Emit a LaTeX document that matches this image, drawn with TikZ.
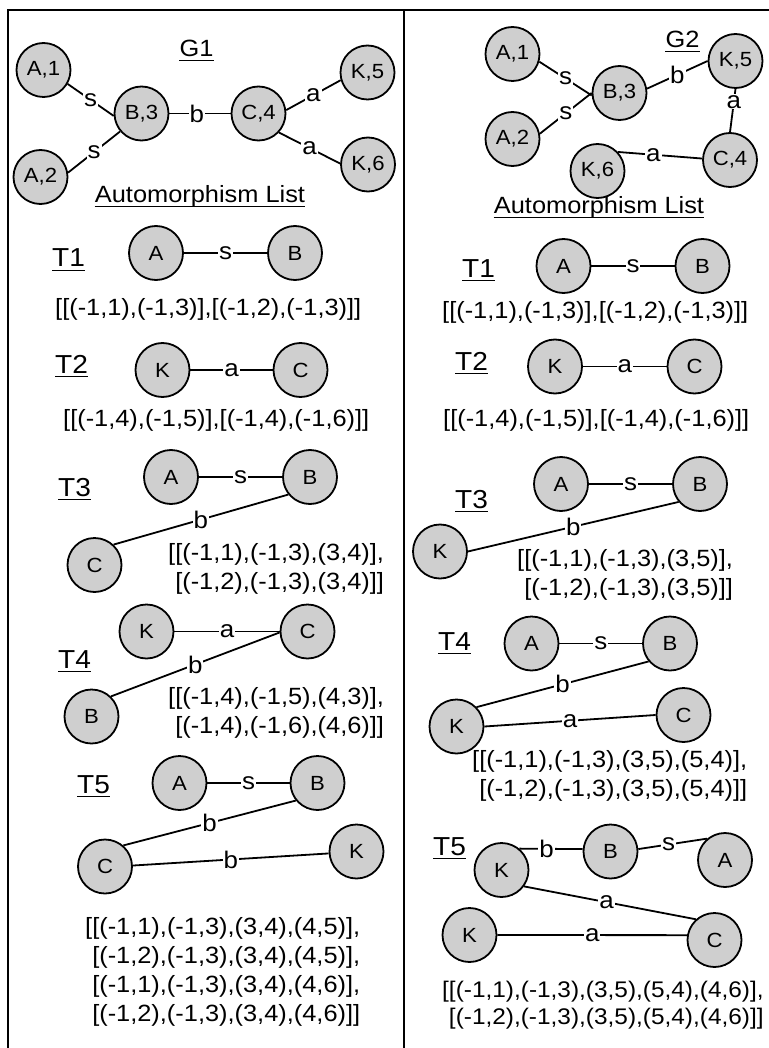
\documentclass[tikz,border=0pt]{standalone}
\usepackage{fontspec}
\setmainfont{Liberation Sans}[FakeStretch=1.08]
\definecolor{nodegray}{RGB}{207,207,207}
\newcommand\drawunder[1]{\draw[ulline] ([yshift=-3.5pt]#1.base west) -- ([yshift=-3.5pt]#1.base east);}
\begin{document}
\begin{tikzpicture}[x=1pt,y=-1pt,
  vtx/.style={circle,draw,line width=1.8pt,fill=nodegray,minimum size=54pt,inner sep=0pt,
              font=\fontsize{20.5}{20.5}\selectfont},
  elbl/.style={fill=white,inner sep=1pt,font=\fontsize{24}{24}\selectfont},
  edge/.style={line width=1.8pt},
  ulline/.style={line width=1.8pt},
  frame/.style={line width=2.3pt},
  tlbl/.style={inner sep=0pt,anchor=base west,font=\fontsize{26}{26}\selectfont},
  head/.style={inner sep=0pt,anchor=base,font=\fontsize{23.5}{23.5}\selectfont},
  lst/.style={inner sep=0pt,anchor=base west,align=left,font=\fontsize{23.5}{29}\selectfont}]
\useasboundingbox (0,0) rectangle (768,1048);

% outer frame and column divider
\draw[frame] (8,1050) -- (8,10) -- (770,10);
\draw[frame] (404,10) -- (404,1050);

% ---------------- left column: G1 ----------------
\node[head] (g1t) at (196.5,57) {G1};
\drawunder{g1t}
\node[vtx] (g1a1) at (43.5,70) {A,1};
\node[vtx] (g1a2) at (40.5,177) {A,2};
\node[vtx] (g1b3) at (141.5,113.5) {B,3};
\node[vtx] (g1c4) at (258.5,113.5) {C,4};
\node[vtx] (g1k5) at (367.5,72.5) {K,5};
\node[vtx] (g1k6) at (368,164.5) {K,6};
\draw[edge] (g1a1.-30) -- node[elbl]{s} (g1b3.185);
\draw[edge] (g1a2.9) -- node[elbl]{s} (g1b3.220);
\draw[edge] (g1b3) -- node[elbl,pos=0.45]{b} (g1c4);
\draw[edge] (g1c4.7) -- node[elbl]{a} (g1k5.196);
\draw[edge] (g1c4.-43) -- node[elbl]{a} (g1k6.178);
\node[head] (g1al) at (200,203) {Automorphism List};
\drawunder{g1al}

% T1 (multi-line lists are placed by the baseline of their last line)
\node[tlbl] (l1t) at (52,267) {T1};
\drawunder{l1t}
\node[vtx] (l1a) at (156,253) {A};
\node[vtx] (l1b) at (295,253) {B};
\draw[edge] (l1a) -- node[elbl]{s} (l1b);
\node[lst] (l1l) at (55,316) {[[(-1,1),(-1,3)],[(-1,2),(-1,3)]]};

% T2
\node[tlbl] (l2t) at (55,373) {T2};
\drawunder{l2t}
\node[vtx] (l2k) at (162.5,370) {K};
\node[vtx] (l2c) at (300.5,370) {C};
\draw[edge] (l2k) -- node[elbl]{a} (l2c);
\node[lst] (l2l) at (63,426) {[[(-1,4),(-1,5)],[(-1,4),(-1,6)]]};

% T3
\node[tlbl] (l3t) at (58,496) {T3};
\drawunder{l3t}
\node[vtx] (l3a) at (171,477) {A};
\node[vtx] (l3b) at (310,477) {B};
\node[vtx] (l3c) at (94.5,565) {C};
\draw[edge] (l3a) -- node[elbl]{s} (l3b);
\draw[edge] (l3c.47) -- node[elbl]{b} (l3b.219);
\node[lst] (l3l) at (168,589) {[[(-1,1),(-1,3),(3,4)],\\\hphantom{[}[(-1,2),(-1,3),(3,4)]]};

% T4
\node[tlbl] (l4t) at (58,668) {T4};
\drawunder{l4t}
\node[vtx] (l4k) at (146.5,631.5) {K};
\node[vtx] (l4c) at (307.5,631.5) {C};
\node[vtx] (l4b) at (91.5,716.5) {B};
\draw[edge] (l4k) -- node[elbl]{a} (l4c);
\draw[edge] (l4b.46) -- node[elbl]{b} (l4c.182);
\node[lst] (l4l) at (168,733) {[[(-1,4),(-1,5),(4,3)],\\\hphantom{[}[(-1,4),(-1,6),(4,6)]]};

% T5
\node[tlbl] (l5t) at (77,793) {T5};
\drawunder{l5t}
\node[vtx] (l5a) at (179.5,783) {A};
\node[vtx] (l5b) at (317.5,783) {B};
\node[vtx] (l5c) at (105,866.5) {C};
\node[vtx] (l5k) at (356.5,851.5) {K};
\draw[edge] (l5a) -- node[elbl]{s} (l5b);
\draw[edge] (l5c.49) -- node[elbl]{b} (l5b.219);
\draw[edge] (l5c.2) -- node[elbl]{b} (l5k.184);
\node[lst] (l5l) at (85,1021) {[[(-1,1),(-1,3),(3,4),(4,5)],\\\hphantom{[}[(-1,2),(-1,3),(3,4),(4,5)],\\\hphantom{[}[(-1,1),(-1,3),(3,4),(4,6)],\\\hphantom{[}[(-1,2),(-1,3),(3,4),(4,6)]]};

% ---------------- right column: G2 ----------------
\node[head] (g2t) at (682.5,48) {G2};
\drawunder{g2t}
\node[vtx] (g2a1) at (512.5,54) {A,1};
\node[vtx] (g2a2) at (512.5,139) {A,2};
\node[vtx] (g2b3) at (619.5,93) {B,3};
\node[vtx] (g2k5) at (735.5,61) {K,5};
\node[vtx] (g2c4) at (730,160) {C,4};
\node[vtx] (g2k6) at (597.5,171) {K,6};
\draw[edge] (g2a1.-16) -- node[elbl]{s} (g2b3.185);
\draw[edge] (g2a2.11) -- node[elbl]{s} (g2b3.180);
\draw[edge] (g2b3.9) -- node[elbl]{b} (g2k5.180);
\draw[edge] (g2k5.south) -- node[elbl,pos=0.3]{a} (g2c4.north);
\draw[edge] (g2k6.43) -- node[elbl,pos=0.42]{a} (g2c4.177);
\node[head] (g2al) at (599,214) {Automorphism List};
\drawunder{g2al}

% T1
\node[tlbl] (r1t) at (462,277) {T1};
\drawunder{r1t}
\node[vtx] (r1a) at (563.5,266) {A};
\node[vtx] (r1b) at (702.5,266) {B};
\draw[edge] (r1a) -- node[elbl]{s} (r1b);
\node[lst] (r1l) at (442,318.5) {[[(-1,1),(-1,3)],[(-1,2),(-1,3)]]};

% T2
\node[tlbl] (r2t) at (455,370) {T2};
\drawunder{r2t}
\node[vtx] (r2k) at (555,366.5) {K};
\node[vtx] (r2c) at (694.5,366.5) {C};
\draw[edge] (r2k) -- node[elbl]{a} (r2c);
\node[lst] (r2l) at (443,426.5) {[[(-1,4),(-1,5)],[(-1,4),(-1,6)]]};

% T3
\node[tlbl] (r3t) at (455,508) {T3};
\drawunder{r3t}
\node[vtx] (r3a) at (561,484) {A};
\node[vtx] (r3b) at (700,484) {B};
\node[vtx] (r3k) at (440,551.5) {K};
\draw[edge] (r3a) -- node[elbl]{s} (r3b);
\draw[edge] (r3k.east) -- node[elbl]{b} (r3b.220);
\node[lst] (r3l) at (517,595.5) {[[(-1,1),(-1,3),(3,5)],\\\hphantom{[}[(-1,2),(-1,3),(3,5)]]};

% T4
\node[tlbl] (r4t) at (438,650) {T4};
\drawunder{r4t}
\node[vtx] (r4a) at (531.5,643.5) {A};
\node[vtx] (r4b) at (670,643.5) {B};
\node[vtx] (r4k) at (456.5,726.5) {K};
\node[vtx] (r4c) at (683.5,715) {C};
\draw[edge] (r4a) -- node[elbl]{s} (r4b);
\draw[edge] (r4k.44) -- node[elbl]{b} (r4b.220);
\draw[edge] (r4k.east) -- node[elbl]{a} (r4c.west);
\node[lst] (r4l) at (472,796.5) {[[(-1,1),(-1,3),(3,5),(5,4)],\\\hphantom{[}[(-1,2),(-1,3),(3,5),(5,4)]]};

% T5
\node[tlbl] (r5t) at (433,855) {T5};
\drawunder{r5t}
\node[vtx] (r5k1) at (501.5,870) {K};
\node[vtx] (r5b) at (610.5,851.5) {B};
\node[vtx] (r5a) at (725,860) {A};
\node[vtx] (r5k2) at (469.5,935) {K};
\node[vtx] (r5c) at (714.5,940) {C};
\draw[edge] (r5k1.50) -- node[elbl,pos=0.43]{b} (r5b.175);
\draw[edge] (r5b.5) -- node[elbl,pos=0.44]{s} (r5a.130);
\draw[edge] (r5k1.-36) -- node[elbl,pos=0.48]{a} (r5c.132);
\draw[edge] (r5k2.east) -- node[elbl]{a} (r5c.170);
\node[lst,font=\fontsize{22.6}{27}\selectfont] (r5l) at (442,1024) {[[(-1,1),(-1,3),(3,5),(5,4),(4,6)],\\\hphantom{[}[(-1,2),(-1,3),(3,5),(5,4),(4,6)]]};
\end{tikzpicture}
\end{document}
